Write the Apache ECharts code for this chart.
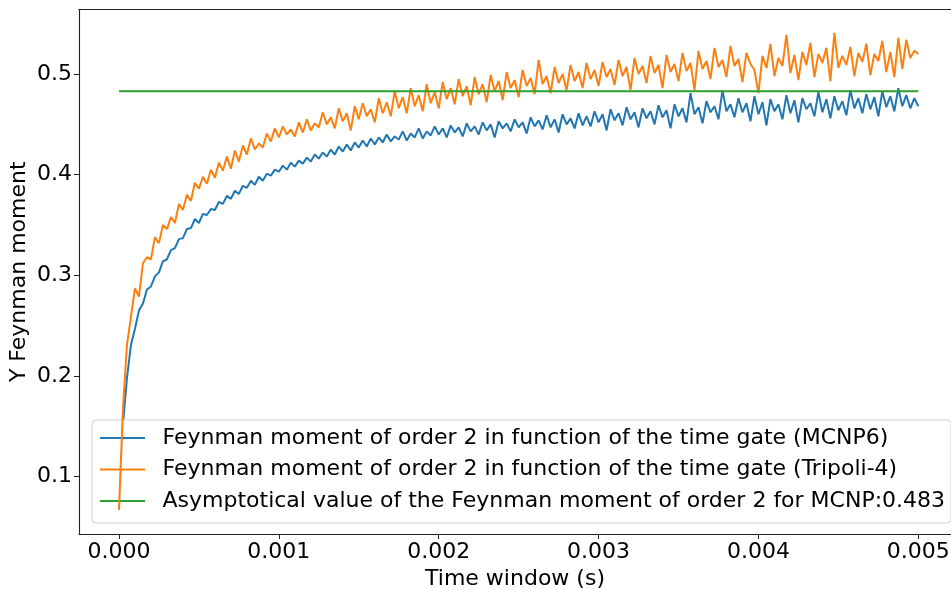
<!DOCTYPE html>
<html><head><meta charset="utf-8">
<script src="https://cdn.jsdelivr.net/npm/echarts@6/dist/echarts.min.js"></script>
<style>html,body{margin:0;padding:0;background:#fff}#c{width:951px;height:590px}</style>
</head><body><div id="c"></div>
<script>
// Sampling grid of time gates (s)
const gateStep = 0.000025;
const xTicks = [0, 0.001, 0.002, 0.003, 0.004, 0.005];
const yTicks = [0.1, 0.2, 0.3, 0.4, 0.5];
const seriesNames = [
  'Feynman moment of order 2 in function of the time gate (MCNP6)',
  'Feynman moment of order 2 in function of the time gate (Tripoli-4)',
  'Asymptotical value of the Feynman moment of order 2 for MCNP:0.483'
];
const mcnpY = [0.067,0.152,0.198,0.231,0.247,0.265,0.272,0.286,0.289,0.299,0.303,0.314,0.316,0.325,0.327,0.336,0.337,0.346,0.347,0.356,
0.352,0.361,0.360,0.366,0.365,0.373,0.371,0.379,0.376,0.384,0.381,0.389,0.387,0.394,0.390,0.398,0.394,0.401,0.399,0.405,
0.403,0.409,0.405,0.412,0.408,0.414,0.411,0.417,0.413,0.420,0.416,0.422,0.418,0.425,0.420,0.428,0.423,0.430,0.424,0.432,
0.427,0.434,0.428,0.436,0.430,0.437,0.432,0.440,0.433,0.438,0.435,0.443,0.434,0.441,0.437,0.446,0.436,0.443,0.439,0.448,
0.440,0.446,0.437,0.449,0.442,0.447,0.438,0.451,0.443,0.448,0.440,0.452,0.444,0.450,0.437,0.453,0.446,0.451,0.443,0.455,
0.447,0.452,0.441,0.457,0.448,0.454,0.445,0.459,0.447,0.455,0.442,0.460,0.450,0.456,0.446,0.461,0.449,0.458,0.448,0.463,
0.452,0.460,0.444,0.465,0.454,0.461,0.449,0.467,0.455,0.462,0.447,0.466,0.456,0.463,0.450,0.469,0.457,0.464,0.446,0.470,
0.458,0.466,0.452,0.481,0.460,0.467,0.451,0.473,0.462,0.468,0.455,0.484,0.463,0.470,0.457,0.476,0.462,0.471,0.453,0.478,
0.460,0.472,0.449,0.475,0.463,0.470,0.455,0.479,0.461,0.474,0.452,0.476,0.465,0.471,0.458,0.482,0.462,0.475,0.456,0.478,
0.464,0.473,0.459,0.484,0.466,0.476,0.461,0.480,0.465,0.477,0.458,0.483,0.467,0.478,0.463,0.486,0.468,0.479,0.466,0.476,
0.468];
const tripoliY = [0.067,0.168,0.231,0.259,0.287,0.279,0.312,0.318,0.316,0.338,0.332,0.350,0.346,0.358,0.352,0.371,0.365,0.380,0.374,0.392,
0.386,0.398,0.391,0.405,0.397,0.412,0.404,0.418,0.406,0.424,0.413,0.429,0.420,0.436,0.425,0.431,0.427,0.441,0.433,0.446,
0.437,0.448,0.440,0.445,0.438,0.452,0.442,0.455,0.444,0.451,0.447,0.462,0.450,0.457,0.446,0.466,0.453,0.461,0.444,0.468,
0.455,0.471,0.458,0.465,0.452,0.476,0.461,0.472,0.458,0.483,0.466,0.477,0.461,0.486,0.468,0.479,0.463,0.490,0.471,0.482,
0.466,0.492,0.475,0.486,0.470,0.495,0.478,0.488,0.469,0.497,0.480,0.490,0.472,0.499,0.483,0.493,0.474,0.502,0.486,0.494,
0.477,0.504,0.488,0.496,0.480,0.514,0.490,0.498,0.481,0.507,0.491,0.500,0.484,0.509,0.493,0.502,0.486,0.511,0.495,0.504,
0.488,0.512,0.497,0.505,0.489,0.514,0.498,0.507,0.484,0.516,0.500,0.508,0.491,0.518,0.501,0.509,0.486,0.519,0.502,0.510,
0.493,0.521,0.503,0.511,0.484,0.523,0.505,0.513,0.495,0.526,0.507,0.514,0.497,0.528,0.508,0.515,0.492,0.521,0.510,0.504,
0.481,0.518,0.506,0.530,0.498,0.516,0.508,0.539,0.501,0.519,0.494,0.522,0.509,0.531,0.497,0.520,0.511,0.526,0.493,0.541,
0.506,0.518,0.509,0.527,0.498,0.521,0.512,0.530,0.499,0.520,0.513,0.533,0.502,0.522,0.497,0.536,0.505,0.534,0.516,0.523,
0.520];
const asymptote = 0.483;
const asymX = [0, 0.005];

const pair = arr => arr.map((v, i) => [+(i * gateStep).toFixed(7), v]);
const font = 'DejaVu Sans';
const fs = 22;
const chart = echarts.init(document.getElementById('c'), null, {renderer: 'canvas'});
const axisLineStyle = {color: '#222', width: 1.1};
chart.setOption({
  animation: false,
  backgroundColor: '#fff',
  grid: {left: 79, right: 0, top: 9.5, bottom: 56, containLabel: false, outerBoundsMode: 'none'},
  xAxis: [{
    type: 'value', min: -0.00025, max: 0.0052045,
    name: 'Time window (s)', nameLocation: 'middle', nameGap: 34, nameMoveOverlap: false,
    nameTextStyle: {fontFamily: font, fontSize: fs, color: '#000'},
    axisLine: {show: true, onZero: false, lineStyle: axisLineStyle},
    axisTick: {show: true, length: 5, lineStyle: {color: '#222'}, customValues: xTicks},
    axisLabel: {fontFamily: font, fontSize: fs, color: '#000', margin: 7, customValues: xTicks,
      formatter: v => v.toFixed(3)},
    splitLine: {show: false}
  }, {
    type: 'value', position: 'top', min: -0.00025, max: 0.0052045,
    axisLine: {show: true, lineStyle: axisLineStyle},
    axisTick: {show: false}, axisLabel: {show: false}, splitLine: {show: false}
  }],
  yAxis: {
    type: 'value', min: 0.0431, max: 0.5641,
    name: 'Y Feynman moment', nameLocation: 'middle', nameGap: 49, nameMoveOverlap: false,
    nameTextStyle: {fontFamily: font, fontSize: fs, color: '#000'},
    axisLine: {show: true, onZero: false, lineStyle: axisLineStyle},
    axisTick: {show: true, length: 5, lineStyle: {color: '#222'}, customValues: yTicks},
    axisLabel: {fontFamily: font, fontSize: fs, color: '#000', margin: 7, customValues: yTicks,
      formatter: v => v.toFixed(1)},
    splitLine: {show: false}
  },
  legend: {
    left: 92, top: 420, orient: 'vertical',
    backgroundColor: 'rgba(255,255,255,0.8)', borderColor: '#d0d0d0', borderWidth: 1, borderRadius: 4,
    padding: [5, 6, 9, 8], itemGap: 5.5, itemWidth: 45, itemHeight: 2, icon: 'rect',
    textStyle: {fontFamily: font, fontSize: fs, color: '#000', lineHeight: 26, padding: [0, 0, 0, 12.5]},
    data: seriesNames
  },
  series: [
    {name: seriesNames[0], type: 'line', showSymbol: false, symbol: 'none', data: pair(mcnpY),
      lineStyle: {color: '#1f77b4', width: 2}, itemStyle: {color: '#1f77b4'}, z: 3},
    {name: seriesNames[1], type: 'line', showSymbol: false, symbol: 'none', data: pair(tripoliY),
      lineStyle: {color: '#ff7f0e', width: 2}, itemStyle: {color: '#ff7f0e'}, z: 4},
    {name: seriesNames[2], type: 'line', showSymbol: false, symbol: 'none',
      data: asymX.map(x => [x, asymptote]),
      lineStyle: {color: '#2ca02c', width: 2}, itemStyle: {color: '#2ca02c'}, z: 5}
  ]
});
</script></body></html>
